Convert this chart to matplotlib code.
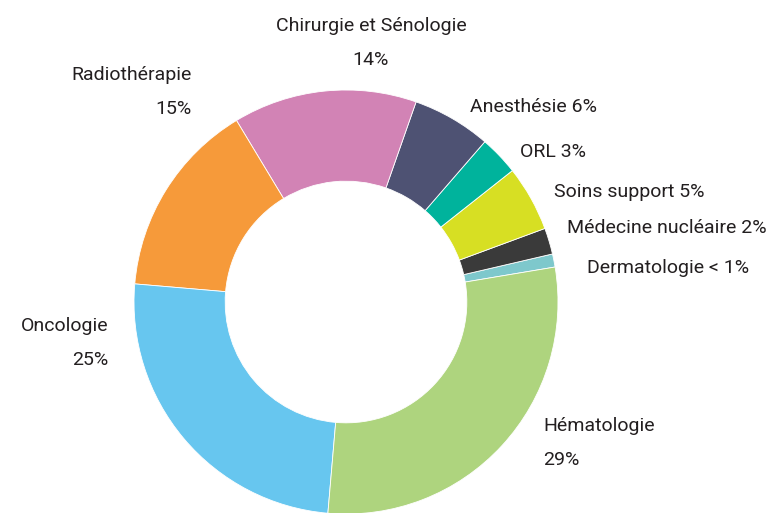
import matplotlib
matplotlib.use('Agg')
import matplotlib.pyplot as plt

plt.rcParams['font.family'] = ['Roboto', 'DejaVu Sans']

labels = ['Dermatologie < 1%', 'Médecine nucléaire 2%', 'Soins support 5%', 'ORL 3%',
          'Anesthésie 6%', 'Chirurgie et Sénologie\n14%', 'Radiothérapie\n15%',
          'Oncologie\n25%', 'Hématologie\n29%']
values = [1, 2, 5, 3, 6, 14, 15, 25, 29]
colors = ['#7EC8CC', '#3A3A3A', '#D7DF23', '#00B39C', '#4E5273',
          '#D283B5', '#F69A3A', '#67C6EF', '#AED47E']

# label anchor positions in pixels (x, y from top) and alignment
label_pos = [(587, 268, 'left'), (567, 228, 'left'), (554, 192, 'left'), (520, 152, 'left'),
             (470, 107, 'left'), (371, 43, 'center'), (192, 92, 'right'),
             (108, 343, 'right'), (543, 443, 'left')]

W, H = 774, 513
cx, cy, R = 346, 302, 212

fig = plt.figure(figsize=(W / 100, H / 100), dpi=100)
ax = fig.add_axes([0, 0, 1, 1])
ax.pie(values, colors=colors, startangle=9.5, counterclock=True, radius=1,
       wedgeprops=dict(width=0.43, edgecolor='white', linewidth=0.6))

ax.set_xlim(-cx / R, (W - cx) / R)
ax.set_ylim(-(H - cy) / R, cy / R)
ax.set_aspect('equal')
ax.axis('off')

for lab, (px, py, ha) in zip(labels, label_pos):
    ax.text((px - cx) / R, (cy - py) / R, lab, ha=ha, va='center', multialignment=ha,
            fontsize=14, color='#231F20', linespacing=2.1)

fig.savefig('out.png', dpi=100)
